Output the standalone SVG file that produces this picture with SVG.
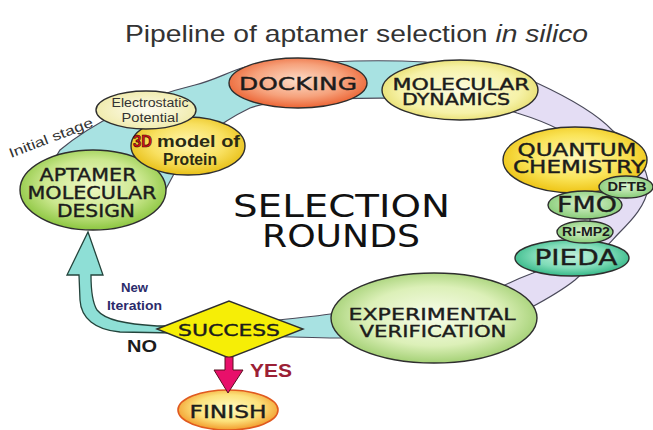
<svg xmlns="http://www.w3.org/2000/svg" width="653" height="430" viewBox="0 0 653 430">
<defs>
<radialGradient id="gApt" cx="50%" cy="45%" r="55%"><stop offset="0" stop-color="#eef8c4"/><stop offset="0.6" stop-color="#cce890"/><stop offset="1" stop-color="#8cc640"/></radialGradient>
<radialGradient id="gEl" cx="50%" cy="50%" r="55%"><stop offset="0" stop-color="#fefdf0"/><stop offset="1" stop-color="#efeaa8"/></radialGradient>
<radialGradient id="g3d" cx="50%" cy="45%" r="55%"><stop offset="0" stop-color="#fff6b0"/><stop offset="0.6" stop-color="#f8e060"/><stop offset="1" stop-color="#e8c018"/></radialGradient>
<radialGradient id="gDock" cx="50%" cy="45%" r="55%"><stop offset="0" stop-color="#fcdcc8"/><stop offset="0.6" stop-color="#f6a27c"/><stop offset="1" stop-color="#ec6434"/></radialGradient>
<radialGradient id="gMD" cx="50%" cy="50%" r="55%"><stop offset="0" stop-color="#fcfce0"/><stop offset="0.7" stop-color="#f6f2a8"/><stop offset="1" stop-color="#e6dc68"/></radialGradient>
<radialGradient id="gQC" cx="50%" cy="45%" r="55%"><stop offset="0" stop-color="#fff8b8"/><stop offset="0.6" stop-color="#fae458"/><stop offset="1" stop-color="#eec414"/></radialGradient>
<radialGradient id="gGr" cx="50%" cy="45%" r="55%"><stop offset="0" stop-color="#dcf4d0"/><stop offset="1" stop-color="#88cc78"/></radialGradient>
<radialGradient id="gPie" cx="50%" cy="45%" r="55%"><stop offset="0" stop-color="#c4f0dc"/><stop offset="0.6" stop-color="#80dcb8"/><stop offset="1" stop-color="#36b888"/></radialGradient>
<radialGradient id="gExp" cx="50%" cy="48%" r="55%"><stop offset="0" stop-color="#f8fcea"/><stop offset="0.6" stop-color="#dcf0b8"/><stop offset="1" stop-color="#9ccc6c"/></radialGradient>
<radialGradient id="gFin" cx="50%" cy="45%" r="55%"><stop offset="0" stop-color="#fffac0"/><stop offset="0.6" stop-color="#fce27c"/><stop offset="1" stop-color="#f29c2c"/></radialGradient>
<style>
.node{stroke:#2e2e2e;stroke-width:1.4}
.lab{font-family:"DejaVu Sans",sans-serif;fill:#1c1c1c;stroke:#1c1c1c;stroke-width:0.4;text-anchor:middle}
.sm{font-family:"Liberation Sans",Arial,sans-serif;font-weight:bold;fill:#1c1c1c;text-anchor:middle}
.band{stroke:#4a4a5a;stroke-width:1.2}
</style>
</defs>

<text x="125" y="42" font-family="'Liberation Sans',Arial,sans-serif" font-size="24" fill="#333" textLength="463" lengthAdjust="spacingAndGlyphs">Pipeline of aptamer selection <tspan font-style="italic">in silico</tspan></text>

<g id="connectors">
<path class="band" fill="#a8e2e2" d="M45,175 L60,150 C90,125 140,98 195,85 C215,80 228,72 245,67 L330,62 C370,60 420,60 470,66 L470,100 C420,98 360,97 300,100 C275,102 260,104 250,108 C225,120 195,140 175,172 L160,200 Z"/>
<path class="band" fill="#e4ddf4" d="M470,66 C500,68 520,76 537,83 C565,96 595,112 612,130 C635,150 650,170 648,188 C646,205 632,220 620,232 C612,240 608,246 600,252 C590,265 582,274 575,280 C560,292 545,300 530,308 L495,293 L503,286 C515,280 525,276 533,273 C560,262 585,252 590,240 L590,190 C590,170 580,150 560,130 C545,122 530,117 517,113 C500,106 485,102 470,100 Z"/>
<path class="band" fill="#a8e2e2" d="M345,312 C320,316 295,318 262,322 L262,336 C290,337 315,338 345,338 Z"/>
<path fill="#8edfd6" stroke="#24443c" stroke-width="1.3" d="M175,326 L157,326 C125,324 105,320 97,310 C92,302 91,290 91,275 L103,275 L88,232 L67,275 L79,275 L80,300 C81,318 95,330 120,332 L175,333 Z"/>
</g>

<g id="aptamer"><ellipse class="node" cx="93" cy="190" rx="73" ry="40" fill="url(#gApt)"/>
<text class="lab" x="88" y="181" font-size="18" textLength="97" lengthAdjust="spacingAndGlyphs">APTAMER</text>
<text class="lab" x="92" y="199" font-size="18" textLength="129" lengthAdjust="spacingAndGlyphs">MOLECULAR</text>
<text class="lab" x="96" y="217" font-size="17.5" textLength="78" lengthAdjust="spacingAndGlyphs">DESIGN</text></g>

<g id="model3d"><ellipse class="node" cx="188" cy="146" rx="57" ry="29" fill="url(#g3d)"/>
<text x="133" y="147" font-family="'Liberation Sans',Arial,sans-serif" font-weight="bold" font-size="17" fill="#d8141c" stroke="#300" stroke-width="0.6" textLength="19" lengthAdjust="spacingAndGlyphs">3D</text>
<text x="157" y="147" font-family="'Liberation Sans',Arial,sans-serif" font-weight="bold" font-size="17" fill="#2a2a14" textLength="83" lengthAdjust="spacingAndGlyphs">model of</text>
<text x="190" y="165" font-family="'Liberation Sans',Arial,sans-serif" font-weight="bold" font-size="16" fill="#2a2a14" text-anchor="middle" textLength="54" lengthAdjust="spacingAndGlyphs">Protein</text></g>

<g id="electrostatic"><ellipse class="node" cx="146" cy="110" rx="50" ry="19" fill="url(#gEl)" stroke-width="1.1"/>
<text x="150" y="107" font-family="'Liberation Sans',Arial,sans-serif" font-size="12.5" fill="#333" text-anchor="middle" textLength="77" lengthAdjust="spacingAndGlyphs">Electrostatic</text>
<text x="150" y="122" font-family="'Liberation Sans',Arial,sans-serif" font-size="12.5" fill="#333" text-anchor="middle" textLength="57" lengthAdjust="spacingAndGlyphs">Potential</text></g>

<text x="11" y="158" transform="rotate(-21 11 158)" font-family="'Liberation Sans',Arial,sans-serif" font-size="13.5" fill="#333" textLength="89" lengthAdjust="spacingAndGlyphs">Initial stage</text>

<g id="docking"><ellipse class="node" cx="298" cy="83" rx="69" ry="25" fill="url(#gDock)"/>
<text class="lab" x="298" y="90" font-size="18" textLength="118" lengthAdjust="spacingAndGlyphs">DOCKING</text></g>

<g id="md"><ellipse class="node" cx="460" cy="90" rx="78" ry="30" fill="url(#gMD)"/>
<text class="lab" x="461" y="90" font-size="15" textLength="137" lengthAdjust="spacingAndGlyphs">MOLECULAR</text>
<text class="lab" x="456" y="105" font-size="15" textLength="108" lengthAdjust="spacingAndGlyphs">DYNAMICS</text></g>

<g id="qc"><ellipse class="node" cx="575" cy="160" rx="72" ry="33" fill="url(#gQC)"/>
<text class="lab" x="577" y="156" font-size="17" textLength="119" lengthAdjust="spacingAndGlyphs">QUANTUM</text>
<text class="lab" x="579" y="173" font-size="17" textLength="132" lengthAdjust="spacingAndGlyphs">CHEMISTRY</text></g>

<g id="fmo"><ellipse class="node" cx="585" cy="205" rx="37" ry="14" fill="url(#gGr)"/>
<text class="lab" x="587" y="212" font-size="22" textLength="60" lengthAdjust="spacingAndGlyphs">FMO</text></g>

<g id="dftb"><ellipse class="node" cx="626" cy="187" rx="27" ry="11" fill="url(#gGr)" stroke-width="1"/>
<text class="sm" x="627" y="191" font-size="13" textLength="39" lengthAdjust="spacingAndGlyphs">DFTB</text></g>

<g id="pieda"><ellipse class="node" cx="572" cy="258" rx="57" ry="18" fill="url(#gPie)"/>
<text class="lab" x="576" y="265" font-size="22" stroke-width="0.9" textLength="83" lengthAdjust="spacingAndGlyphs">PIEDA</text></g>

<g id="rimp2"><ellipse class="node" cx="585" cy="232" rx="28" ry="11" fill="url(#gGr)" stroke-width="1"/>
<text class="sm" x="586" y="236" font-size="12" textLength="48" lengthAdjust="spacingAndGlyphs">RI-MP2</text></g>

<g id="experimental"><ellipse class="node" cx="434" cy="318" rx="103" ry="45" fill="url(#gExp)"/>
<text class="lab" x="432" y="320" font-size="16.5" textLength="167" lengthAdjust="spacingAndGlyphs">EXPERIMENTAL</text>
<text class="lab" x="433" y="337" font-size="16.5" textLength="147" lengthAdjust="spacingAndGlyphs">VERIFICATION</text></g>

<text x="341.5" y="217" font-family="'DejaVu Sans',sans-serif" font-size="32" fill="#111" text-anchor="middle" textLength="217" lengthAdjust="spacingAndGlyphs">SELECTION</text>
<text x="341" y="247" font-family="'DejaVu Sans',sans-serif" font-size="32" fill="#111" text-anchor="middle" textLength="158" lengthAdjust="spacingAndGlyphs">ROUNDS</text>

<g id="success"><polygon class="node" points="157,329 229,301 303,329 229,358" fill="#f6ee06"/>
<text class="lab" x="229" y="336" font-size="16.5" textLength="102" lengthAdjust="spacingAndGlyphs">SUCCESS</text></g>

<g id="finish"><ellipse cx="228" cy="410" rx="50" ry="20" fill="url(#gFin)" stroke="#e05a20" stroke-width="1.6"/>
<text class="lab" x="228" y="418" font-size="18" textLength="77" lengthAdjust="spacingAndGlyphs">FINISH</text></g>

<path fill="#e8106a" stroke="#5a1020" stroke-width="1" d="M225,357 L233,357 L233,370 L243,370 L228,393 L214,370 L225,370 Z"/>

<text x="134.5" y="292" font-family="'Liberation Sans',Arial,sans-serif" font-weight="bold" font-size="13" fill="#2b2b6b" text-anchor="middle" textLength="27" lengthAdjust="spacingAndGlyphs">New</text>
<text x="134.5" y="310" font-family="'Liberation Sans',Arial,sans-serif" font-weight="bold" font-size="13" fill="#2b2b6b" text-anchor="middle" textLength="55" lengthAdjust="spacingAndGlyphs">Iteration</text>
<text x="127" y="352" font-family="'Liberation Sans',Arial,sans-serif" font-weight="bold" font-size="16.5" fill="#1c1c1c" textLength="30" lengthAdjust="spacingAndGlyphs">NO</text>
<text x="250" y="377" font-family="'Liberation Sans',Arial,sans-serif" font-weight="bold" font-size="18" fill="#9b2035" textLength="42" lengthAdjust="spacingAndGlyphs">YES</text>
</svg>
